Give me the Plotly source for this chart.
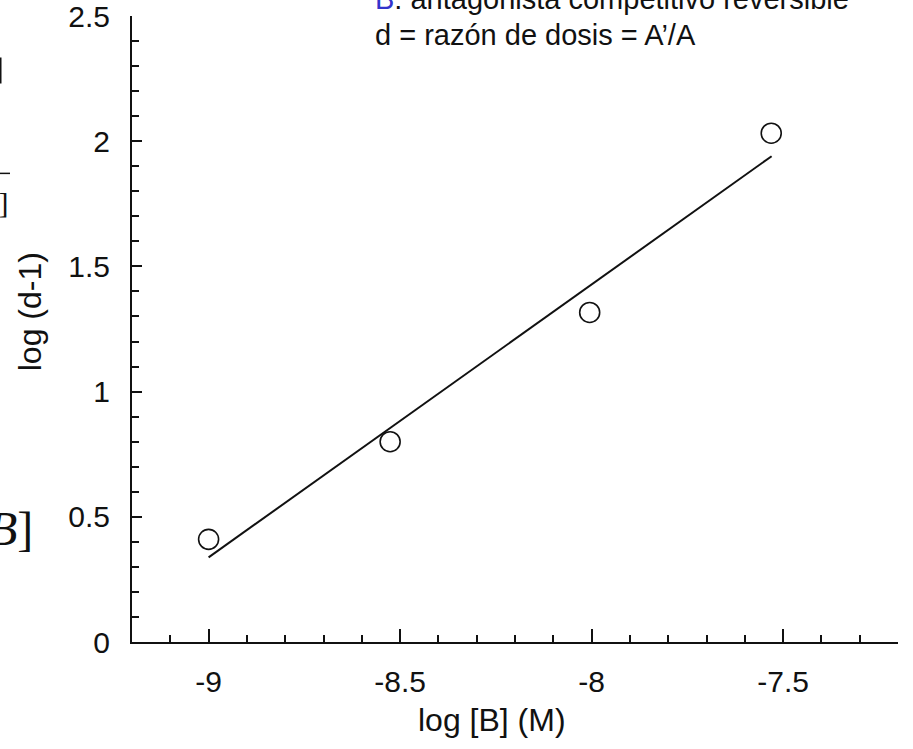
import plotly.graph_objects as go

# Data
log_B = [-9.00, -8.526, -8.005, -7.531]
log_d_minus_1 = [0.41, 0.80, 1.316, 2.032]
fit_x = [-9.00, -7.53]
fit_y = [0.338, 1.94]
x_ticks = [-9, -8.5, -8, -7.5]
x_tick_labels = ["-9", "-8.5", "-8", "-7.5"]
y_ticks = [0, 0.5, 1, 1.5, 2, 2.5]
y_tick_labels = ["0", "0.5", "1", "1.5", "2", "2.5"]

W, H = 913, 749
L, R, T, B = 132, 15, 15.5, 107
PW, PH = W - L - R, H - T - B


def px(x):
    return (x - L) / PW


def py(y):
    return (H - B - y) / PH


FONT = "Liberation Sans, Arial, Helvetica, sans-serif"
SERIF = "Liberation Serif, Times New Roman, serif"
INK = "#111111"

fig = go.Figure()
fig.add_trace(go.Scatter(x=fit_x, y=fit_y, mode="lines",
                         line=dict(color=INK, width=2), showlegend=False,
                         hoverinfo="skip"))
fig.add_trace(go.Scatter(x=log_B, y=log_d_minus_1, mode="markers",
                         marker=dict(symbol="circle-open", size=20,
                                     color=INK, line=dict(color=INK, width=1.6)),
                         showlegend=False))

fig.update_xaxes(range=[-9.2, -7.2], tickvals=x_ticks, ticktext=x_tick_labels,
                 ticks="inside", ticklen=13, tickwidth=1.5, tickcolor=INK,
                 showline=True, linewidth=2, linecolor=INK, mirror=False,
                 showgrid=False, zeroline=False, ticklabelstandoff=12,
                 automargin=False, ticklabeloverflow="allow",
                 tickfont=dict(family=FONT, size=30, color=INK),
                 minor=dict(dtick=0.1, tick0=-9.2, ticks="inside", ticklen=7,
                            tickwidth=1.5, tickcolor=INK, showgrid=False))
fig.update_yaxes(range=[0, 2.5], tickvals=y_ticks, ticktext=y_tick_labels,
                 ticks="inside", ticklen=10, tickwidth=1.5, tickcolor=INK,
                 showline=True, linewidth=2, linecolor=INK, mirror=False,
                 showgrid=False, zeroline=False, ticklabelstandoff=14,
                 automargin=False, ticklabeloverflow="allow",
                 tickfont=dict(family=FONT, size=30, color=INK),
                 minor=dict(dtick=0.1, tick0=0, ticks="inside", ticklen=7,
                            tickwidth=1.5, tickcolor=INK, showgrid=False))

annotations = [
    dict(text="log [B] (M)", x=px(492), y=py(720), xanchor="center", yanchor="middle",
         font=dict(family=FONT, size=32, color=INK)),
    dict(text="log (d-1)", x=px(30), y=py(312), xanchor="center", yanchor="middle",
         textangle=-90, font=dict(family=FONT, size=32, color=INK)),
    dict(text="<span style='color:#3333cc'>B</span>: antagonista competitivo reversible",
         x=px(373), y=py(-2), xanchor="left", yanchor="middle",
         font=dict(family=FONT, size=29, color=INK)),
    dict(text="d = razón de dosis = A’/A", x=px(373), y=py(35), xanchor="left",
         yanchor="middle", font=dict(family=FONT, size=29, color=INK)),
    dict(text="<i>B</i>]", x=px(35), y=py(528), xanchor="right", yanchor="middle",
         font=dict(family=SERIF, size=48, color=INK)),
    dict(text="′]", x=px(11), y=py(202), xanchor="right", yanchor="middle",
         font=dict(family=SERIF, size=30, color=INK)),
]
for a in annotations:
    a.update(xref="paper", yref="paper", showarrow=False)

shapes = [
    dict(type="line", x0=px(0.5), x1=px(0.5), y0=py(57), y1=py(83),
         line=dict(color=INK, width=2)),
    dict(type="line", x0=px(0), x1=px(10), y0=py(173), y1=py(173),
         line=dict(color=INK, width=1.5)),
]
for s in shapes:
    s.update(xref="paper", yref="paper")

fig.update_layout(width=W, height=H, margin=dict(l=L, r=R, t=T, b=B),
                  paper_bgcolor="white", plot_bgcolor="white",
                  annotations=annotations, shapes=shapes)

fig.write_html("out.html")
